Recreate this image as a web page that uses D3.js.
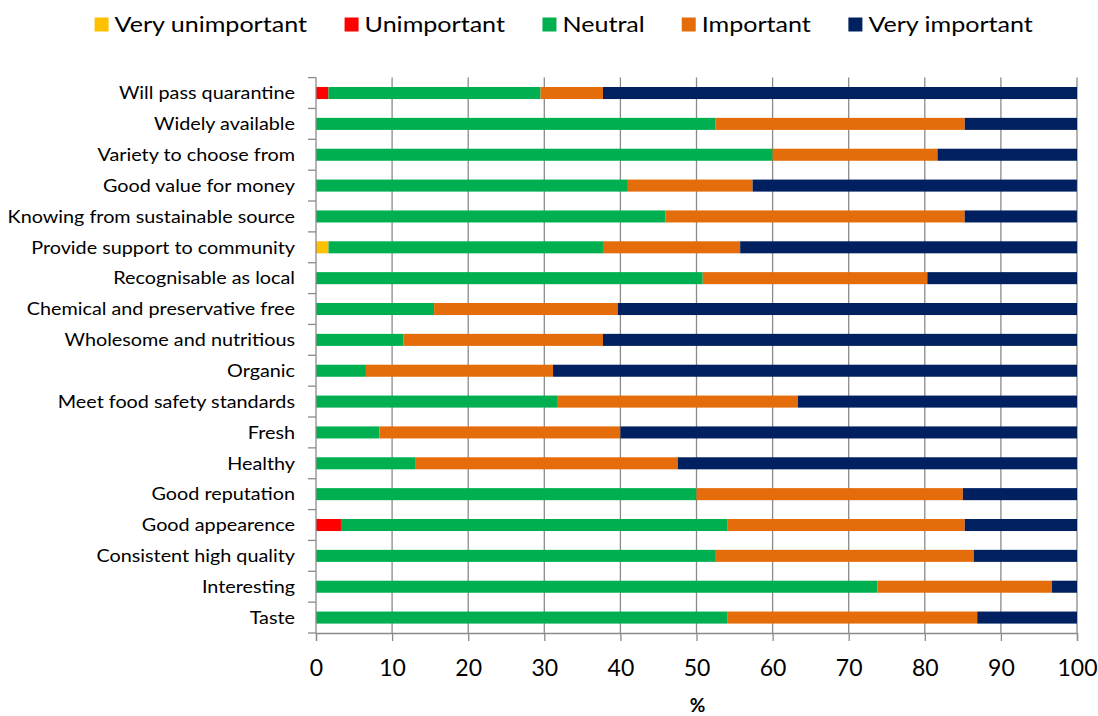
<!DOCTYPE html>
<html>
<head>
<meta charset="utf-8">
<script src="https://cdn.jsdelivr.net/npm/d3@7"></script>
<style>
  html, body { margin: 0; padding: 0; background: #fff; }
  svg { display: block; font-family: Lato, "Open Sans", sans-serif; }
</style>
</head>
<body>
<svg id="chart" width="1098" height="716"></svg>
<script>
// Attributes, listed top to bottom
const categories = [
  "Will pass quarantine",
  "Widely available",
  "Variety to choose from",
  "Good value for money",
  "Knowing from sustainable source",
  "Provide support to community",
  "Recognisable as local",
  "Chemical and preservative free",
  "Wholesome and nutritious",
  "Organic",
  "Meet food safety standards",
  "Fresh",
  "Healthy",
  "Good reputation",
  "Good appearence",
  "Consistent high quality",
  "Interesting",
  "Taste"
];

// Share of respondents (%) for each rating, in the order of `categories`
const veryUnimportant = [0, 0, 0, 0, 0, 1.64, 0, 0, 0, 0, 0, 0, 0, 0, 0, 0, 0, 0];
const unimportant     = [1.64, 0, 0, 0, 0, 0, 0, 0, 0, 0, 0, 0, 0, 0, 3.28, 0, 0, 0];
const neutral         = [27.87, 52.46, 60.00, 40.98, 45.90, 36.07, 50.82, 15.52, 11.48, 6.56, 31.67, 8.33, 13.11, 50.00, 50.82, 52.54, 73.77, 54.10];
const important       = [8.20, 32.79, 21.67, 16.39, 39.34, 18.03, 29.51, 24.14, 26.23, 24.59, 31.67, 31.67, 34.43, 35.00, 31.15, 33.90, 22.95, 32.79];
const veryImportant   = [62.30, 14.75, 18.33, 42.62, 14.75, 44.26, 19.67, 60.34, 62.30, 68.85, 36.67, 60.00, 52.46, 15.00, 14.75, 13.56, 3.28, 13.11];

const seriesNames = ["Very unimportant", "Unimportant", "Neutral", "Important", "Very important"];
const seriesColors = ["#FFC000", "#FF0000", "#00B050", "#E46C0A", "#002060"];
const xTicks = [0, 10, 20, 30, 40, 50, 60, 70, 80, 90, 100];
const xTitle = "%";

const seriesValues = [veryUnimportant, unimportant, neutral, important, veryImportant];
const rows = categories.map((c, i) => {
  const r = { category: c };
  seriesNames.forEach((s, k) => { r[s] = seriesValues[k][i]; });
  return r;
});

const svg = d3.select("#chart");
const plot = { left: 316, right: 1077, top: 77.6, bottom: 633 };
const axisColor = "#8a8a8a";
const textStretch = 1.1;   // slightly wide lettering, as in the original typeface

const x = d3.scaleLinear().domain([0, 100]).range([plot.left, plot.right]);
const y = d3.scaleBand()
  .domain(categories)
  .range([plot.top, plot.bottom])
  .paddingInner(0.61)
  .paddingOuter(0.305);

// vertical gridlines
svg.append("g")
  .selectAll("line")
  .data(xTicks.filter(t => t > 0))
  .join("line")
  .attr("x1", d => x(d)).attr("x2", d => x(d))
  .attr("y1", plot.top).attr("y2", plot.bottom)
  .attr("stroke", axisColor)
  .attr("stroke-width", 1.3);

// stacked bars
const stack = d3.stack().keys(seriesNames);
const layers = stack(rows);
svg.append("g")
  .selectAll("g")
  .data(layers)
  .join("g")
  .attr("fill", (d, i) => seriesColors[i])
  .selectAll("rect")
  .data(d => d)
  .join("rect")
  .attr("x", d => x(d[0]))
  .attr("width", d => Math.max(0, x(Math.min(100, d[1])) - x(d[0])))
  .attr("y", d => y(d.data.category))
  .attr("height", y.bandwidth());

// y axis: line, ticks at band boundaries, labels
const step = y.step();
const bounds = categories.map(c => y(c) - step * y.paddingOuter()).concat([plot.bottom]);
const yAxis = svg.append("g");
yAxis.append("line")
  .attr("x1", plot.left).attr("x2", plot.left)
  .attr("y1", plot.top).attr("y2", plot.bottom)
  .attr("stroke", axisColor).attr("stroke-width", 1.3);
yAxis.selectAll("line.tick")
  .data(bounds)
  .join("line")
  .attr("class", "tick")
  .attr("x1", plot.left - 8).attr("x2", plot.left)
  .attr("y1", d => d).attr("y2", d => d)
  .attr("stroke", axisColor).attr("stroke-width", 1.3);
yAxis.selectAll("text")
  .data(categories)
  .join("text")
  .attr("transform", d => `translate(${plot.left - 21},${y(d) + y.bandwidth() / 2}) scale(${textStretch},1)`)
  .attr("dy", "0.35em")
  .attr("text-anchor", "end")
  .attr("font-size", 18)
  .attr("fill", "#000")
  .text(d => d);

// x axis
const xAxis = svg.append("g").attr("transform", `translate(0,${plot.bottom})`)
  .call(d3.axisBottom(x).tickValues(xTicks).tickSize(8).tickFormat(d3.format("d")));
xAxis.select(".domain").attr("stroke", axisColor).attr("stroke-width", 1.3);
xAxis.selectAll(".tick line").attr("stroke", axisColor).attr("stroke-width", 1.3);
xAxis.selectAll(".tick text")
  .attr("font-family", "Lato, 'Open Sans', sans-serif")
  .attr("font-size", 23)
  .attr("y", 42.5)
  .attr("dy", 0)
  .attr("fill", "#000");

svg.append("text")
  .attr("x", x(50) + 1)
  .attr("y", 712)
  .attr("text-anchor", "middle")
  .attr("font-size", 19)
  .attr("font-weight", "bold")
  .attr("fill", "#000")
  .text(xTitle);

// legend, laid out left to right and centred
const legend = svg.append("g");
const items = legend.selectAll("g")
  .data(seriesNames)
  .join("g");
items.append("rect")
  .attr("width", 14).attr("height", 14)
  .attr("y", 17.5)
  .attr("fill", (d, i) => seriesColors[i]);
items.append("text")
  .attr("transform", "translate(20,32.3) scale(1.14,1)")
  .attr("font-size", 22)
  .attr("fill", "#000")
  .text(d => d);
let cursor = 0;
const offsets = [];
items.each(function () {
  offsets.push(cursor);
  cursor += this.getBBox().width + 37;
});
const totalW = cursor - 37;
const legendStart = 564 - totalW / 2;
items.attr("transform", (d, i) => `translate(${legendStart + offsets[i]},0)`);
</script>
</body>
</html>
